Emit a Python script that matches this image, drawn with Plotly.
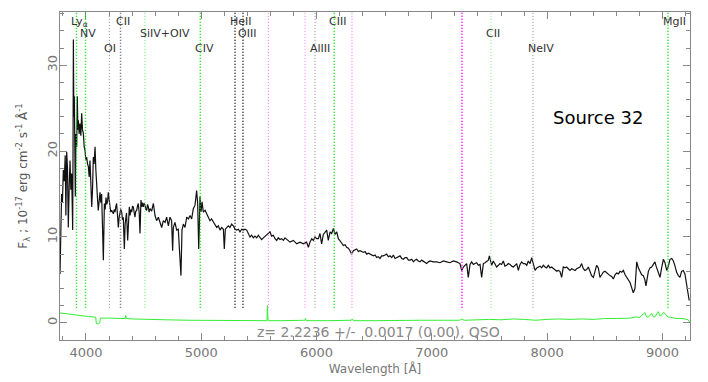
import plotly.graph_objects as go

wave = [3775, 3782, 3789, 3796, 3804, 3812, 3820, 3826, 3833, 3840, 3847, 3855, 3862, 3869, 3876,
        3882, 3885, 3888, 3891, 3895, 3899, 3903, 3908, 3913, 3920, 3925, 3930, 3934, 3941, 3948,
        3956, 3963, 3970, 3977, 3985, 3992, 3999, 4006, 4014, 4021, 4028, 4035, 4042, 4050, 4057,
        4064, 4071, 4079, 4086, 4093, 4100, 4107, 4115, 4122, 4129, 4136, 4143, 4151, 4156, 4160,
        4167, 4174, 4181, 4188, 4194, 4201, 4209, 4216, 4223, 4230, 4238, 4245, 4252, 4259, 4266,
        4274, 4281, 4288, 4295, 4302, 4310, 4317, 4324, 4333, 4340, 4345, 4352, 4362, 4369, 4376,
        4383, 4390, 4397, 4404, 4411, 4418, 4425, 4432, 4440, 4447, 4454, 4462, 4469, 4477, 4484,
        4491, 4498, 4505, 4512, 4520, 4527, 4534, 4541, 4548,
        4556, 4570, 4585, 4599, 4613, 4628, 4642, 4657, 4671, 4686, 4700, 4715, 4729, 4743, 4752,
        4758, 4772, 4787, 4801, 4810, 4817, 4824, 4833, 4845, 4859, 4874, 4888, 4903, 4917, 4931,
        4946, 4960, 4969, 4975, 4978, 4983, 4989, 4998, 5007, 5018, 5033, 5047, 5061, 5076, 5090,
        5105, 5119, 5134, 5148, 5163, 5177, 5192, 5200, 5209, 5221, 5235, 5249, 5264, 5278, 5293,
        5307, 5322, 5336, 5351, 5365, 5380, 5394, 5408, 5423, 5437, 5452, 5466, 5481, 5495, 5510,
        5524, 5539, 5553, 5567, 5582, 5596, 5610, 5625, 5640, 5654, 5668, 5683, 5697, 5712, 5726,
        5741, 5755, 5770,
        5799, 5828, 5857, 5885, 5914, 5929, 5943, 5958, 5972, 5987, 6001, 6016, 6030, 6044, 6059,
        6073, 6088, 6102, 6117, 6131, 6146, 6160, 6175, 6189, 6203, 6218, 6232, 6247, 6261, 6276,
        6290, 6305, 6319, 6334, 6348, 6363, 6377, 6392, 6406, 6421, 6435, 6450, 6464, 6479, 6493,
        6508, 6521, 6536, 6550, 6565, 6579, 6594, 6608, 6623, 6637, 6652, 6666, 6681, 6695, 6710,
        6724, 6739, 6753, 6768, 6782, 6797, 6811, 6826, 6840, 6854, 6868, 6883, 6897, 6912, 6926,
        6941, 6955, 6970, 6984,
        7013, 7042, 7071, 7100, 7128, 7157, 7186, 7215, 7244, 7259, 7273, 7288, 7302, 7316, 7331,
        7345, 7360, 7374, 7389, 7403, 7418, 7432, 7447, 7461, 7475, 7490, 7499, 7509, 7519, 7533,
        7547, 7562, 7577, 7591, 7605, 7620, 7634, 7649, 7663, 7678, 7692, 7707, 7721, 7736, 7750,
        7765, 7779, 7794, 7808, 7823, 7837, 7852, 7866, 7881, 7895, 7910, 7924, 7938, 7953, 7967,
        7982, 7996, 8010, 8025, 8039, 8054, 8068, 8083, 8097, 8111, 8126, 8140, 8155, 8169, 8184,
        8198, 8213, 8227, 8242, 8256, 8271, 8285, 8299, 8314, 8328, 8343, 8357, 8372, 8386, 8401,
        8415, 8429, 8444, 8458, 8473, 8487, 8502, 8516, 8531, 8545, 8560, 8574, 8589, 8603, 8618,
        8632, 8647, 8661, 8676, 8690, 8705, 8719, 8733, 8747, 8762, 8777, 8791, 8805, 8820, 8834,
        8848, 8857, 8868, 8878, 8892, 8906, 8921, 8935, 8945, 8956, 8967, 8979, 8993, 9008, 9022,
        9037, 9051, 9066, 9080, 9095, 9109, 9123, 9138, 9152, 9166, 9181, 9195, 9210, 9220, 9232]
flux = [5.7, 12.0, 15.0, 14.0, 17.8, 16.5, 19.5, 12.5, 19.9, 18.0, 11.1, 16.0, 18.9, 15.5, 17.4,
        13.0, 10.8, 20.0, 33.0, 24.0, 26.4, 20.0, 14.7, 22.0, 20.5, 26.4, 22.5, 23.6, 22.0, 23.2,
        21.8, 24.4, 22.5, 22.1, 20.5, 20.1, 19.0, 19.3, 18.5, 18.2, 17.0, 18.9, 16.5, 13.5, 15.5,
        19.3, 18.5, 20.5, 17.8, 16.6, 14.5, 13.1, 14.0, 15.2, 14.0, 15.0, 11.5, 7.3, 11.0, 13.9,
        13.2, 14.6, 13.8, 14.2, 15.2, 14.0, 13.5, 12.9, 13.1, 12.9, 12.7, 13.2, 12.9, 13.5, 13.9,
        12.5, 11.1, 12.3, 12.7, 13.2, 12.9, 12.0, 12.3, 8.6, 11.5, 11.9, 12.8, 9.6, 12.0, 13.5,
        12.5, 13.2, 12.9, 13.6, 13.5, 12.6, 12.3, 13.0, 13.1, 13.6, 13.9, 12.8, 10.4, 14.3, 13.5,
        14.0, 13.5, 13.9, 13.7, 13.2, 13.1, 13.8, 13.5, 12.9,
        13.3, 13.0, 13.9, 12.5, 11.9, 12.3, 11.7, 11.1, 11.9, 11.7, 12.3, 11.3, 12.3, 11.9, 8.4,
        11.1, 11.7, 10.8, 10.9, 8.8, 7.0, 5.5, 10.8, 11.5, 11.1, 12.3, 12.1, 12.5, 12.1, 13.3,
        13.7, 15.4, 13.9, 10.0, 8.6, 11.0, 14.7, 12.9, 14.1, 12.9, 13.1, 12.7, 12.3, 11.9, 12.1,
        11.7, 11.5, 11.1, 11.3, 10.8, 11.1, 10.9, 8.6, 10.9, 11.1, 11.3, 11.1, 11.5, 11.3, 10.9,
        10.8, 10.9, 10.6, 10.9, 10.8, 10.9, 10.8, 10.4, 10.0, 10.2, 9.9, 10.1, 9.9, 10.2, 10.0,
        9.7, 9.9, 10.1, 10.2, 10.4, 10.6, 10.1, 10.2, 9.8, 9.6, 9.9, 9.7, 9.8, 9.6, 9.9,
        9.7, 9.5, 9.4,
        9.6, 9.2, 9.4, 9.2, 9.4, 8.8, 9.4, 9.8, 9.6, 10.0, 9.8, 9.8, 10.4, 9.2, 10.3,
        10.6, 10.8, 9.6, 10.6, 10.4, 11.0, 10.3, 10.6, 9.8, 9.6, 9.3, 9.0, 9.1, 8.8, 8.7,
        8.4, 8.0, 8.4, 8.5, 8.6, 8.3, 8.4, 8.3, 8.2, 8.3, 8.0, 8.1, 8.0, 7.9, 7.8,
        7.9, 7.6, 7.7, 7.5, 7.8, 7.8, 7.9, 8.0, 7.7, 7.8, 7.6, 7.9, 7.5, 7.6, 7.7,
        7.8, 7.5, 7.4, 7.6, 7.6, 7.3, 7.3, 7.4, 7.1, 7.3, 7.4, 7.2, 7.1, 7.3, 7.2,
        7.0, 6.9, 7.1, 7.2,
        7.1, 7.1, 7.0, 7.2, 7.1, 7.0, 7.2, 7.1, 6.9, 6.1, 6.5, 6.7, 6.9, 5.3, 6.8,
        7.1, 6.8, 6.9, 7.0, 6.7, 6.8, 5.3, 6.9, 7.0, 7.1, 7.3, 7.8, 7.2, 6.7, 7.2,
        6.8, 6.5, 6.7, 6.9, 6.8, 7.2, 6.6, 6.7, 6.9, 6.8, 6.6, 6.5, 6.7, 6.9, 6.1,
        6.8, 7.1, 6.9, 6.9, 6.7, 7.2, 6.9, 7.6, 6.9, 6.1, 6.4, 6.5, 6.6, 6.4, 6.7,
        6.5, 6.4, 6.7, 6.4, 6.5, 6.3, 6.2, 6.0, 6.1, 6.0, 5.3, 6.5, 6.4, 6.5, 6.3,
        6.1, 6.3, 6.2, 6.1, 6.3, 6.4, 6.5, 6.9, 6.3, 6.1, 6.2, 6.5, 6.0, 5.5, 5.3,
        6.0, 6.7, 6.4, 5.3, 5.6, 5.9, 6.0, 5.8, 5.6, 5.5, 5.4, 5.1, 5.6, 5.8, 5.7,
        6.0, 5.9, 6.1, 5.6, 5.3, 5.0, 4.7, 4.1, 3.5, 4.0, 7.1, 6.4, 6.0, 5.6, 5.5,
        5.0, 4.3, 5.2, 6.0, 6.4, 6.5, 6.8, 7.1, 6.6, 6.2, 5.8, 5.3, 6.4, 7.4, 7.0,
        6.1, 6.6, 7.4, 7.5, 7.2, 6.6, 5.9, 5.5, 5.3, 6.0, 6.1, 5.7, 4.5, 3.6, 2.6]

# error spectrum (green)
err_wave = [3775, 3800, 3830, 3860, 3890, 3920, 3950, 3980, 4020, 4060, 4085, 4090, 4110, 4120, 4125,
            4200, 4270, 4340, 4345, 4352, 4400, 4500, 4700, 4900, 5100, 5300, 5570, 5574, 5580, 5700,
            5900, 5905, 5910, 6100, 6300, 6310, 6320, 6500, 6700, 6900, 7100, 7240, 7260, 7280, 7400,
            7500, 7600, 7700, 7800, 7900, 8000, 8100, 8200, 8300, 8400, 8500, 8600, 8660, 8720, 8776,
            8800, 8848, 8862, 8877, 8906, 8920, 8935, 8964, 8978, 8993, 9008, 9022, 9037, 9051, 9080,
            9120, 9180, 9224, 9239]
err_flux = [1.15, 1.10, 1.05, 1.0, 0.95, 0.9, 0.85, 0.8, 0.75, 0.7, 0.65, -0.1, -0.1, 0.0, 0.55,
            0.55, 0.5, 0.5, 0.85, 0.5, 0.45, 0.4, 0.35, 0.3, 0.3, 0.25, 0.25, 2.0, 0.25, 0.25,
            0.3, 0.5, 0.25, 0.25, 0.3, 0.45, 0.25, 0.25, 0.3, 0.3, 0.3, 0.3, 0.45, 0.3, 0.35,
            0.4, 0.35, 0.45, 0.4, 0.3, 0.4, 0.45, 0.4, 0.45, 0.4, 0.5, 0.5, 0.5, 0.55, 0.7,
            0.6, 1.2, 0.7, 0.65, 1.1, 0.7, 0.7, 1.3, 0.8, 0.9, 1.2, 1.1, 0.8, 0.7, 0.6,
            0.5, 0.5, 0.35, 0.0]

# identified lines at z = 2.2236
line_names = ["Ly<sub>α</sub>", "NV", "OI", "CII", "SiIV+OIV", "CIV", "HeII", "OIII",
              "AlIII", "CIII", "CII", "NeIV", "MgII"]
line_wave = [3918, 3996, 4203, 4300, 4512, 4992, 5293, 5362, 5987, 6154, 7513, 7877, 9048]
line_row = [0, 1, 2, 0, 1, 2, 0, 1, 2, 0, 1, 2, 0]
line_color = ["#00dd00", "#00dd00", "#8a8a8a", "#606060", "#55ee55", "#00dd00", "#111111",
              "#111111", "#8a8a8a", "#00dd00", "#77ee77", "#8a8a8a", "#00dd00"]
line_width = [1.5, 1.5, 1, 1.5, 1, 1.5, 1.5, 1.5, 1, 1.5, 1, 1, 1.5]

# sky / telluric lines (magenta)
sky_wave = [5582, 5900, 6307, 7261]
sky_color = ["#ff66ff", "#ff77ff", "#ffaaff", "#ff22ff"]
sky_width = [1, 1, 2, 2]

fig = go.Figure()

row_y = [0.970, 0.934, 0.890]
for name, w, r, c, lw in zip(line_names, line_wave, line_row, line_color, line_width):
    fig.add_shape(type="line", xref="x", yref="paper", x0=w, x1=w, y0=0.098, y1=1,
                  line=dict(color=c, width=lw, dash="1px,2px"))
    fig.add_annotation(x=w, y=row_y[r], xref="x", yref="paper", text=name, showarrow=False,
                       xanchor="left", yanchor="middle", xshift=-7,
                       font=dict(family="DejaVu Sans", size=11, color="#333333"))

for w, c, lw in zip(sky_wave, sky_color, sky_width):
    fig.add_shape(type="line", xref="x", yref="paper", x0=w, x1=w, y0=0.098, y1=1,
                  line=dict(color=c, width=lw, dash="1px,2px"))

fig.add_trace(go.Scatter(x=err_wave, y=err_flux, mode="lines", line=dict(color="#33ee33", width=1),
                         hoverinfo="skip"))
fig.add_trace(go.Scatter(x=wave, y=flux, mode="lines", line=dict(color="#111111", width=1.2)))

fig.add_annotation(x=0.929, y=0.677, xref="paper", yref="paper", text="Source 32", showarrow=False,
                   xanchor="right", yanchor="middle",
                   font=dict(family="DejaVu Sans", size=18, color="black"))
fig.add_annotation(x=0.505, y=0.025, xref="paper", yref="paper",
                   text="z= 2.2236 +/-  0.0017 (0.00), QSO", showarrow=False, yanchor="middle",
                   font=dict(family="DejaVu Sans", size=14, color="#888888"))

axis_common = dict(showline=True, linecolor="#888888", linewidth=1, mirror="allticks",
                   ticks="inside", tickcolor="#888888", showgrid=False, zeroline=False,
                   automargin=False)

fig.update_xaxes(range=[3775, 9239], tick0=4000, dtick=1000, ticklen=7,
                 minor=dict(ticks="inside", dtick=200, ticklen=4, tickcolor="#888888"),
                 tickfont=dict(family="DejaVu Sans", size=13, color="#777777"),
                 title=dict(text="Wavelength [Å]", standoff=6,
                            font=dict(family="DejaVu Sans", size=12, color="#777777")),
                 **axis_common)
fig.update_yaxes(range=[-2.0, 36.2], tick0=0, dtick=10, ticklen=7, tickangle=-90,
                 ticklabelstandoff=-3,
                 minor=dict(ticks="inside", dtick=2, ticklen=4, tickcolor="#888888"),
                 tickfont=dict(family="DejaVu Sans", size=13, color="#777777"),
                 title=dict(text="F<sub>λ</sub> ; 10<sup>-17</sup> erg cm<sup>-2</sup> s<sup>-1</sup> Å<sup>-1</sup>",
                            standoff=14, font=dict(family="DejaVu Sans", size=12, color="#555555")),
                 **axis_common)

# the page body adds an 8px offset, so margins are set to land the plot box at 60..690 x 12..340
fig.update_layout(width=708, height=382, margin=dict(l=52, r=26, t=4, b=50),
                  paper_bgcolor="white", plot_bgcolor="white", showlegend=False)

fig.write_html("out.html")
